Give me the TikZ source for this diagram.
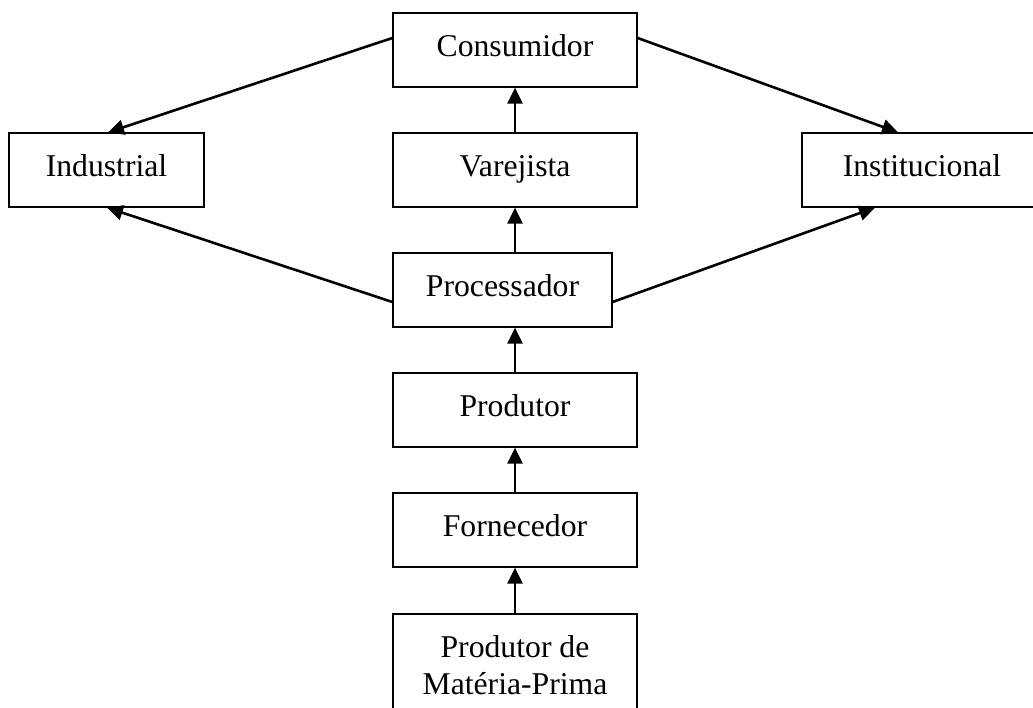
\documentclass[tikz,border=0pt]{standalone}
\usepackage{fontspec}
\setmainfont{Liberation Serif}
\usetikzlibrary{arrows.meta}
\tikzset{
  box/.style={draw=black, line width=1.2pt, rectangle, inner sep=0pt, minimum height=74pt,
    minimum width=244pt, font=\fontsize{31.7}{37}\selectfont, text height=16pt, text depth=4pt},
  tallbox/.style={draw=black, line width=1.2pt, rectangle, inner sep=0pt, minimum height=102pt,
    minimum width=244pt, font=\fontsize{31.7}{37}\selectfont, align=center},
  arr/.style={line width=2.6pt, -{Triangle[length=16pt,width=15pt]}}
}
\begin{document}
\begin{tikzpicture}[x=1pt,y=-1pt]
\useasboundingbox (0,0) rectangle (1033,707);
\clip (0,0) rectangle (1033,707);
\node[box] (cons) at (515,50) {Consumidor};
\node[box, minimum width=195pt] (ind) at (106.5,170) {Industrial};
\node[box] (var) at (515,170) {Varejista};
\node[box, minimum width=240pt] (inst) at (922,170) {Institucional};
\node[box, minimum width=219pt] (proc) at (502.5,290) {Processador};
\node[box] (prod) at (515,410) {Produtor};
\node[box] (forn) at (515,530) {Fornecedor};
\node[tallbox] (pmp) at (515,665) {Produtor de\\Matéria-Prima};

\draw[arr] (var.north) -- (cons.south);
\draw[arr] (proc.north -| var.south) -- (var.south);
\draw[arr] (prod.north) -- (prod.north |- proc.south);
\draw[arr] (forn.north) -- (prod.south);
\draw[arr] (pmp.north) -- (forn.south);

\draw[arr] ([yshift=12pt]cons.west) -- ([xshift=1.5pt]ind.north);
\draw[arr] ([yshift=12pt]cons.east) -- ([xshift=-24pt]inst.north);
\draw[arr] ([yshift=-12pt]proc.west) -- ([xshift=0.5pt]ind.south);
\draw[arr] ([yshift=-12pt]proc.east) -- ([xshift=-47pt]inst.south);
\end{tikzpicture}
\end{document}
